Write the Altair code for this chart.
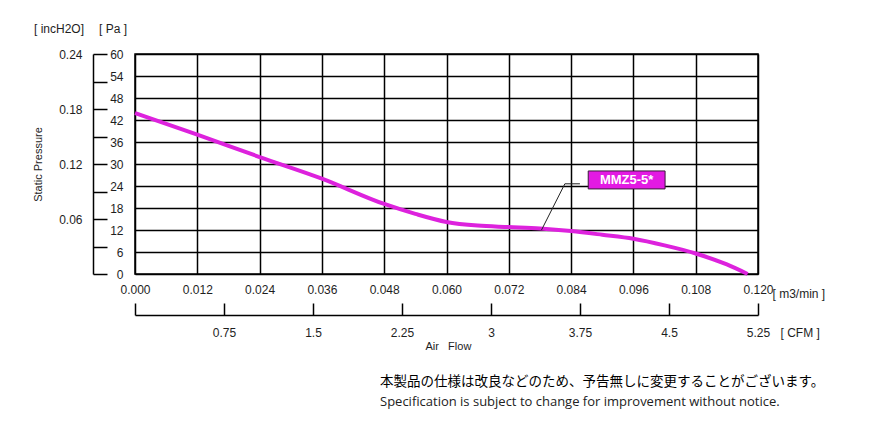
import altair as alt
import pandas as pd

# ---- data ----
flow_m3min = [0.000, 0.012, 0.024, 0.036, 0.048, 0.054, 0.060, 0.066, 0.072,
              0.078, 0.084, 0.090, 0.096, 0.102, 0.108, 0.114, 0.118]
pressure_pa = [43.9, 38.0, 31.9, 26.0, 19.1, 16.4, 14.2, 13.2, 12.8,
               12.4, 11.7, 10.7, 9.6, 7.8, 5.6, 2.6, 0.0]

m3min_ticks = [0.000, 0.012, 0.024, 0.036, 0.048, 0.060, 0.072, 0.084, 0.096, 0.108, 0.120]
pa_ticks = [0, 6, 12, 18, 24, 30, 36, 42, 48, 54, 60]
inch_ticks = [0, 0.03, 0.06, 0.09, 0.12, 0.15, 0.18, 0.21, 0.24]
inch_labels = [0.06, 0.12, 0.18, 0.24]
cfm_ticks = [0, 0.75, 1.5, 2.25, 3, 3.75, 4.5, 5.25]
cfm_labels = [0.75, 1.5, 2.25, 3, 3.75, 4.5, 5.25]

series_name = "MMZ5-5*"
# leader line of the series label, in data units (m3/min, Pa)
leader_x = [0.0783, 0.0828, 0.0857]
leader_y = [12.0, 24.6, 24.6]
box_x = [0.0873, 0.1021]
box_y = [23.2, 28.1]

jp_note = "本製品の仕様は改良などのため、予告無しに変更することがございます。"
en_note = "Specification is subject to change for improvement without notice."

W, H = 623, 220
FONT = "Liberation Sans"
TXT = "#1e1e1e"
MAG = "#dd22dd"

curve_df = pd.DataFrame({"flow": flow_m3min, "pa": pressure_pa})
inch_df = pd.DataFrame({"inch": inch_ticks})
cfm_df = pd.DataFrame({"cfm": cfm_ticks})
leader_df = pd.DataFrame({"flow": leader_x, "pa": leader_y, "o": [0, 1, 2]})
box_df = pd.DataFrame({"x1": [box_x[0]], "x2": [box_x[1]], "y1": [box_y[0]], "y2": [box_y[1]],
                       "xc": [(box_x[0] + box_x[1]) / 2], "yc": [(box_y[0] + box_y[1]) / 2],
                       "name": [series_name]})

xs = alt.Scale(domain=[0, 0.12], nice=False, zero=False)
ys = alt.Scale(domain=[0, 60], nice=False)

curve = alt.Chart(curve_df).mark_line(
    interpolate="monotone", color=MAG, strokeWidth=4
).encode(
    x=alt.X("flow:Q", scale=xs, axis=alt.Axis(
        values=m3min_ticks, format=".3f", grid=True, ticks=False, domain=False,
        labelPadding=10, labelFlush=False, labelOverlap=False,
        title="[ m3/min ]", titleX=637, titleY=19, titleAlign="left",
        titleBaseline="middle", titleAngle=0)),
    y=alt.Y("pa:Q", scale=ys, axis=alt.Axis(
        values=pa_ticks, grid=True, ticks=False, domain=False,
        labelPadding=12, labelOverlap=False, labelFlush=False,
        title="[ Pa ]", titleX=-22.5, titleY=-26, titleAngle=0,
        titleAlign="center", titleBaseline="middle")),
)

leader = alt.Chart(leader_df).mark_line(color="#222", strokeWidth=1).encode(
    x=alt.X("flow:Q", scale=xs, axis=None),
    y=alt.Y("pa:Q", scale=ys, axis=None),
    order="o:Q",
)

box = alt.Chart(box_df).mark_rect(fill="#e31ae3", stroke="#3a1a3a", strokeWidth=1).encode(
    x=alt.X("x1:Q", scale=xs, axis=None), x2="x2:Q",
    y=alt.Y("y1:Q", scale=ys, axis=None), y2="y2:Q",
)

box_text = alt.Chart(box_df).mark_text(
    color="white", font=FONT, fontWeight="bold", fontSize=13, baseline="middle"
).encode(
    x=alt.X("xc:Q", scale=xs, axis=None),
    y=alt.Y("yc:Q", scale=ys, axis=None),
    text="name:N",
)

inch_scale = alt.Scale(domain=[0, 0.24], nice=False)
inch_lab = alt.Chart(inch_df).mark_point(opacity=0).encode(
    y=alt.Y("inch:Q", scale=inch_scale, axis=alt.Axis(
        orient="left", offset=42, values=inch_labels, format=".2f",
        ticks=False, domain=False, grid=False, labelPadding=11,
        labelOverlap=False, labelFlush=False,
        title="Static Pressure", titleFontSize=11, titleX=-55, titleY=110,
        titleAngle=270, titleAlign="center", titleBaseline="middle")),
)
inch_tick = alt.Chart(inch_df).mark_point(opacity=0).encode(
    y=alt.Y("inch:Q", scale=inch_scale, axis=alt.Axis(
        orient="right", offset=-(W + 42), values=inch_ticks, labels=False,
        ticks=True, tickSize=14, domain=True, grid=False,
        title="[ incH2O]", titleX=-34.5, titleY=-26, titleAngle=0,
        titleAlign="center", titleBaseline="middle")),
)

cfm_scale = alt.Scale(domain=[0, 5.25], nice=False, zero=False)
cfm_lab = alt.Chart(cfm_df).mark_point(opacity=0).encode(
    x=alt.X("cfm:Q", scale=cfm_scale, axis=alt.Axis(
        orient="bottom", offset=41, values=cfm_labels, labelExpr="'' + datum.value",
        ticks=False, domain=False, grid=False, labelPadding=12,
        labelOverlap=False, labelFlush=False,
        title="[ CFM ]", titleX=645, titleY=17, titleAlign="left",
        titleBaseline="middle", titleAngle=0)),
)
cfm_tick = alt.Chart(cfm_df).mark_point(opacity=0).encode(
    x=alt.X("cfm:Q", scale=cfm_scale, axis=alt.Axis(
        orient="top", offset=-(H + 41), values=cfm_ticks, labels=False,
        ticks=True, tickSize=12, domain=True, grid=False,
        title="Air\u00a0\u00a0\u00a0Flow", titleFontSize=11, titleX=290, titleY=31,
        titleAlign="left", titleBaseline="middle", titleAngle=0)),
)

chart = alt.layer(
    curve, leader, box, box_text, inch_lab, inch_tick, cfm_lab, cfm_tick
).resolve_scale(
    x="independent", y="independent"
).properties(
    width=W, height=H,
    autosize=alt.AutoSizeParams(type="none"),
    padding={"left": 127, "top": 46, "right": 104, "bottom": 147},
    title=alt.TitleParams(
        text=jp_note, subtitle=en_note, orient="bottom", anchor="start",
        frame="group", dx=245, offset=24,
        font="Noto Sans CJK JP", fontSize=13.5, fontWeight="normal", color="#000",
        subtitleFont="Open Sans", subtitleFontSize=13, subtitleColor="#222",
        subtitlePadding=7,
    ),
).configure_view(
    stroke="#000", strokeWidth=1.5
).configure_axis(
    labelFont=FONT, labelFontSize=12, labelColor=TXT,
    titleFont=FONT, titleFontSize=12, titleFontWeight="normal", titleColor=TXT,
    gridColor="#000", gridWidth=1.5, gridOpacity=1,
    domainColor="#000", domainWidth=1.5, tickColor="#000", tickWidth=1.5,
)

chart.save("out.html", embed_options={"renderer": "svg", "actions": False})
